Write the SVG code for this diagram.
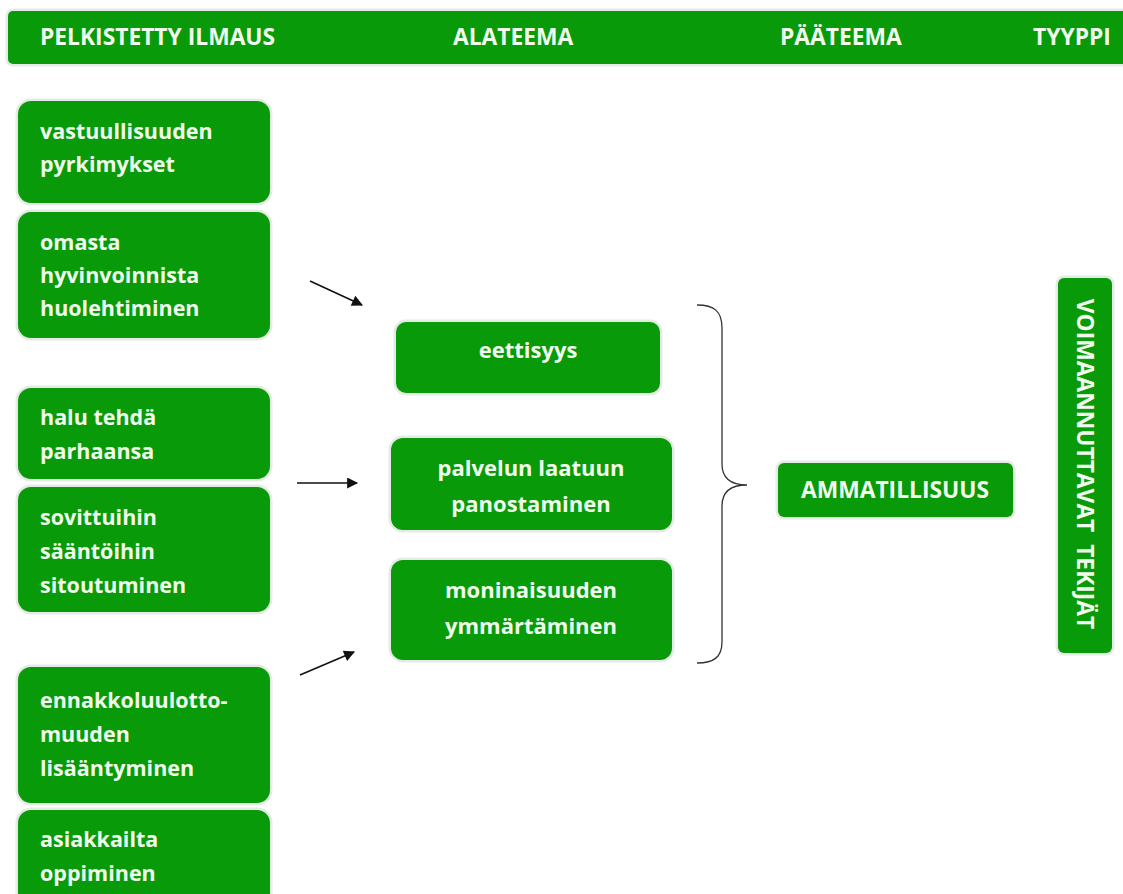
<svg xmlns="http://www.w3.org/2000/svg" width="1123" height="894" viewBox="0 0 1123 894">
<defs>
<style>
.box{fill:#089a08;stroke:#e4ebe4;stroke-width:5;paint-order:stroke}
.t{font-family:"Open Sans","Liberation Sans",sans-serif;font-weight:700;fill:#f0fcec}
.lt{font-size:21.5px}
.mt{font-size:22px;text-anchor:middle}
.ht{font-size:22.8px}
.conn{stroke:#111;stroke-width:1.6;fill:none}
</style>
<marker id="ah" viewBox="0 0 10 10" refX="9" refY="5" markerWidth="13" markerHeight="11" markerUnits="userSpaceOnUse" orient="auto">
<path d="M0,0 L10,5 L0,10 z" fill="#111"/>
</marker>
</defs>
<rect width="1123" height="894" fill="#fff"/>
<g id="header">
<rect class="box" x="8" y="11" width="1130" height="53" rx="5"/>
<text class="t ht" x="40" y="45">PELKISTETTY ILMAUS</text>
<text class="t ht" x="453" y="45">ALATEEMA</text>
<text class="t ht" x="780" y="45">PÄÄTEEMA</text>
<text class="t ht" x="1033" y="45">TYYPPI</text>
</g>
<g id="n1"><rect class="box" x="18" y="101" width="252" height="102" rx="13"/>
<text class="t lt" x="40" y="139">vastuullisuuden</text><text class="t lt" x="40" y="172">pyrkimykset</text></g>
<g id="n2"><rect class="box" x="18" y="212" width="252" height="126" rx="13"/>
<text class="t lt" x="40" y="250">omasta</text><text class="t lt" x="40" y="283">hyvinvoinnista</text><text class="t lt" x="40" y="316">huolehtiminen</text></g>
<g id="n3"><rect class="box" x="18" y="388" width="252" height="91" rx="13"/>
<text class="t lt" x="40" y="425">halu tehdä</text><text class="t lt" x="40" y="459">parhaansa</text></g>
<g id="n4"><rect class="box" x="18" y="487" width="252" height="125" rx="13"/>
<text class="t lt" x="40" y="525">sovittuihin</text><text class="t lt" x="40" y="559">sääntöihin</text><text class="t lt" x="40" y="593">sitoutuminen</text></g>
<g id="n5"><rect class="box" x="18" y="667" width="252" height="136" rx="13"/>
<text class="t lt" x="40" y="708">ennakkoluulotto-</text><text class="t lt" x="40" y="742">muuden</text><text class="t lt" x="40" y="776">lisääntyminen</text></g>
<g id="n6"><rect class="box" x="18" y="810" width="252" height="110" rx="13"/>
<text class="t lt" x="40" y="847">asiakkailta</text><text class="t lt" x="40" y="881">oppiminen</text></g>
<g id="m1"><rect class="box" x="396" y="322" width="264" height="71" rx="10"/>
<text class="t mt" x="528" y="358">eettisyys</text></g>
<g id="m2"><rect class="box" x="391" y="438" width="281" height="92" rx="12"/>
<text class="t mt" x="531" y="476">palvelun laatuun</text><text class="t mt" x="531" y="512">panostaminen</text></g>
<g id="m3"><rect class="box" x="391" y="560" width="281" height="100" rx="12"/>
<text class="t mt" x="531" y="598">moninaisuuden</text><text class="t mt" x="531" y="634">ymmärtäminen</text></g>
<g id="p1"><rect class="box" x="778" y="463" width="235" height="54" rx="6"/>
<text class="t ht" x="895" y="498" text-anchor="middle">AMMATILLISUUS</text></g>
<g id="t1"><rect class="box" x="1058" y="278" width="54" height="375" rx="6"/>
<text class="t ht" x="0" y="0" text-anchor="middle" transform="translate(1077,464) rotate(90)" xml:space="preserve">VOIMAANNUTTAVAT  TEKIJÄT</text></g>
<g id="connectors">
<line class="conn" x1="310" y1="281" x2="362" y2="305" marker-end="url(#ah)"/>
<line class="conn" x1="297" y1="483" x2="357" y2="483" marker-end="url(#ah)"/>
<line class="conn" x1="300" y1="675" x2="354" y2="652" marker-end="url(#ah)"/>
<path d="M697 305 C714 305 722 311 722 328 L722 464 C722 478 731 485 747 485 C731 485 722 492 722 506 L722 642 C722 657 714 663 697 663" fill="none" stroke="#333" stroke-width="1.3"/>
</g>
</svg>
